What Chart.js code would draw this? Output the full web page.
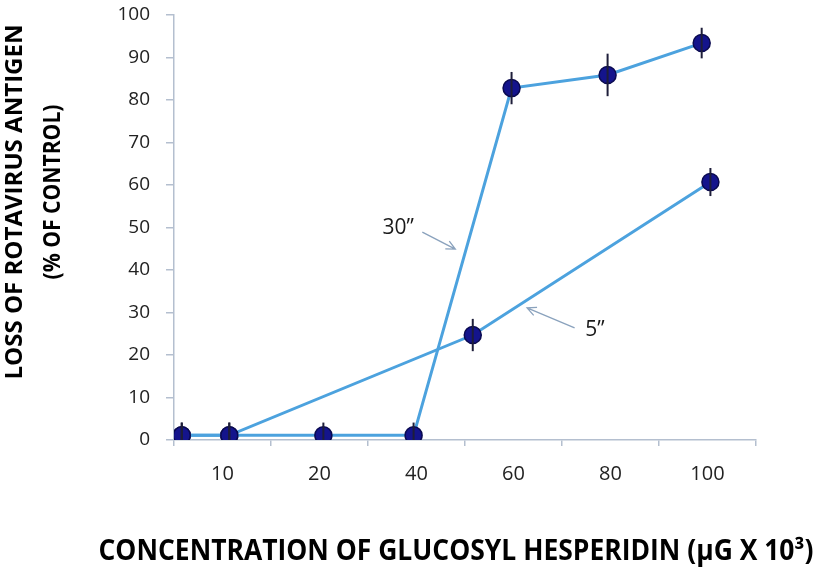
<!DOCTYPE html>
<html>
<head>
<meta charset="utf-8">
<script src="https://cdn.jsdelivr.net/npm/chart.js@4/dist/chart.umd.min.js"></script>
<style>
  html, body { margin: 0; padding: 0; background: #fff; }
  #wrap { width: 837px; height: 570px; }
</style>
</head>
<body>
<div id="wrap"><canvas id="chart" width="837" height="570"></canvas></div>
<script>
// Tick labels of the concentration axis (evenly spaced categories)
const xLabels = ['10', '20', '40', '60', '80', '100'];

// 30" exposure: positions along the category axis, values, error half-widths
const pos30 = [-0.42, 0.07, 1.04, 1.97, 2.98, 3.97, 4.94];
const val30 = [1.1, 1.1, 1.1, 1.1, 82.8, 85.9, 93.4];
const err30 = [3.0, 3.0, 3.0, 3.0, 3.8, 5.0, 3.6];

// 5" exposure
const pos5 = [-0.42, 0.07, 2.58, 5.03];
const val5 = [1.1, 1.1, 24.7, 60.7];
const err5 = [3.0, 3.0, 3.8, 3.3];

// Series annotations (label + pointer arrow), in axis units
const notes = [
  { text: '30\u201D', x: 1.81, y: 49.9, from: [2.06, 48.9], to: [2.40, 44.9] },
  { text: '5\u201D', x: 3.84, y: 25.9, from: [3.63, 26.4], to: [3.14, 31.1] }
];

const AXIS = '#b4bfcf';
const LINE = '#4ca2de';

function toPoints(xs, ys) {
  return xs.map((x, i) => ({ x: x, y: ys[i] }));
}

// draw text squeezed/stretched to a given length (the source font is condensed)
function fitText(ctx, text, cx, cy, length, size, angle) {
  ctx.save();
  ctx.font = 'bold ' + size + 'px "Open Sans"';
  const w = ctx.measureText(text).width;
  ctx.translate(cx, cy);
  ctx.rotate(angle);
  ctx.scale(length / w, 1);
  ctx.fillStyle = '#000';
  ctx.textAlign = 'center';
  ctx.textBaseline = 'middle';
  ctx.fillText(text, 0, 0);
  ctx.restore();
}

const errorBars = {
  id: 'errorBars',
  afterDatasetsDraw(chart) {
    const ctx = chart.ctx;
    const x = chart.scales.x, y = chart.scales.y;
    ctx.save();
    ctx.strokeStyle = '#1e1e3a';
    ctx.lineWidth = 2;
    chart.data.datasets.forEach(ds => {
      ds.data.forEach((p, i) => {
        const px = x.getPixelForValue(p.x);
        const lo = Math.max(0, p.y - ds.errors[i]);
        ctx.beginPath();
        ctx.moveTo(px, y.getPixelForValue(lo));
        ctx.lineTo(px, y.getPixelForValue(p.y + ds.errors[i]));
        ctx.stroke();
      });
    });
    ctx.restore();
  }
};

const decorations = {
  id: 'decorations',
  afterDraw(chart) {
    const ctx = chart.ctx;
    const x = chart.scales.x, y = chart.scales.y;

    notes.forEach(n => {
      ctx.save();
      ctx.font = '21px "Open Sans"';
      ctx.fillStyle = '#1a1a1a';
      ctx.textAlign = 'center';
      ctx.textBaseline = 'middle';
      ctx.fillText(n.text, x.getPixelForValue(n.x), y.getPixelForValue(n.y));

      const x1 = x.getPixelForValue(n.from[0]), y1 = y.getPixelForValue(n.from[1]);
      const x2 = x.getPixelForValue(n.to[0]), y2 = y.getPixelForValue(n.to[1]);
      const a = Math.atan2(y2 - y1, x2 - x1);
      const head = 10;
      ctx.strokeStyle = '#8aa2bd';
      ctx.lineWidth = 1.3;
      ctx.beginPath();
      ctx.moveTo(x1, y1);
      ctx.lineTo(x2, y2);
      ctx.moveTo(x2 - head * Math.cos(a - 0.45), y2 - head * Math.sin(a - 0.45));
      ctx.lineTo(x2, y2);
      ctx.lineTo(x2 - head * Math.cos(a + 0.45), y2 - head * Math.sin(a + 0.45));
      ctx.stroke();
      ctx.restore();
    });

    // axis titles
    fitText(ctx, 'LOSS OF ROTAVIRUS ANTIGEN', 15, 202, 355, 24, -Math.PI / 2);
    fitText(ctx, '(% OF CONTROL)', 53, 192, 175, 24, -Math.PI / 2);
    fitText(ctx, 'CONCENTRATION OF GLUCOSYL HESPERIDIN (\u00B5G X 10\u00B3)', 456, 552, 715, 28, 0);
  }
};

const seriesStyle = {
  showLine: true,
  borderColor: LINE,
  borderWidth: 3,
  pointRadius: 8.5,
  pointHoverRadius: 8.5,
  pointBackgroundColor: '#14148c',
  pointBorderColor: '#0a0a50',
  pointBorderWidth: 1.5,
  clip: 0
};

new Chart(document.getElementById('chart'), {
  type: 'scatter',
  data: {
    datasets: [
      Object.assign({ label: '30"', data: toPoints(pos30, val30), errors: err30 }, seriesStyle),
      Object.assign({ label: '5"', data: toPoints(pos5, val5), errors: err5 }, seriesStyle)
    ]
  },
  options: {
    responsive: false,
    animation: false,
    events: [],
    layout: { padding: { left: 0, right: 81, top: 15, bottom: 70 } },
    plugins: {
      legend: { display: false },
      tooltip: { enabled: false }
    },
    scales: {
      x: {
        type: 'linear',
        min: -0.5,
        max: 5.5,
        afterBuildTicks: scale => {
          scale.ticks = xLabels.map((l, i) => ({ value: i }));
        },
        afterFit: scale => {
          scale.height = 60;
          scale.paddingLeft = 0;
          scale.paddingRight = 0;
        },
        grid: { offset: true, drawOnChartArea: false, color: AXIS, lineWidth: 1.5, tickLength: 6 },
        border: { color: AXIS, width: 1.5 },
        ticks: {
          autoSkip: false,
          maxRotation: 0,
          padding: 16,
          color: '#222',
          font: { family: 'Open Sans', size: 20 },
          callback: (v, i) => xLabels[i]
        }
      },
      y: {
        min: 0,
        max: 100,
        afterFit: scale => {
          scale.width = 174;
          scale.paddingTop = 0;
          scale.paddingBottom = 0;
        },
        grid: { drawOnChartArea: false, color: AXIS, lineWidth: 1.5, tickLength: 8 },
        border: { color: AXIS, width: 1.5 },
        ticks: {
          stepSize: 10,
          padding: 16,
          color: '#222',
          font: { family: 'Open Sans', size: 19 }
        }
      }
    }
  },
  plugins: [errorBars, decorations]
});
</script>
</body>
</html>
